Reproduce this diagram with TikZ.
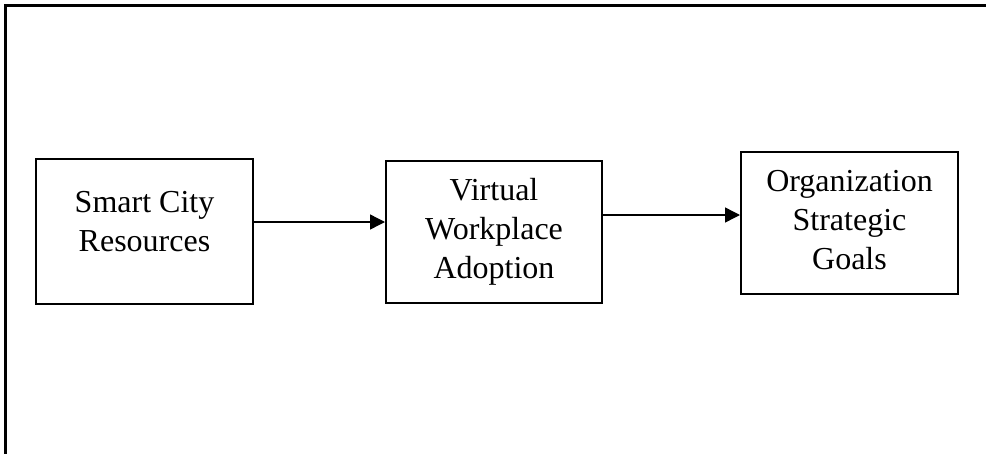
\documentclass[tikz,border=0pt]{standalone}
\usepackage{fontspec}
\setmainfont{Liberation Serif}
\usetikzlibrary{arrows.meta}
\begin{document}
\begin{tikzpicture}[x=1pt,y=-1pt,
  boxnode/.style={draw=black,line width=2pt,inner sep=0pt},
  txt/.style={align=center,inner sep=0pt,font=\fontsize{32}{39}\selectfont},
  arr/.style={line width=1.4pt,-{Triangle[length=15pt,width=15pt]}},
  frame/.style={line width=2.6pt}]
\useasboundingbox (0,0) rectangle (986,453);
\clip (0,0) rectangle (986,453);
\draw[frame] (5.5,460) -- (5.5,5.5) -- (995,5.5);
% boxes
\node[boxnode,minimum width=217pt,minimum height=145pt] (b1) at (144.5,231.5) {};
\node[boxnode,minimum width=216pt,minimum height=142pt] (b2) at (494,232) {};
\node[boxnode,minimum width=217pt,minimum height=142pt] (b3) at (849.5,223) {};
% texts
\node[txt] (t1) at (144.5,221.5) {Smart City\\Resources};
\node[txt] (t2) at (494,231.5) {Virtual\\Workplace\\Adoption};
\node[txt] (t3) at (849.5,220) {Organization\\Strategic\\Goals};
% connectors
\coordinate (y1) at (0,222);
\coordinate (y2) at (0,215);
\draw[arr] (b1.east |- y1) -- (b2.west |- y1);
\draw[arr] (b2.east |- y2) -- (b3.west |- y2);
\end{tikzpicture}
\end{document}
